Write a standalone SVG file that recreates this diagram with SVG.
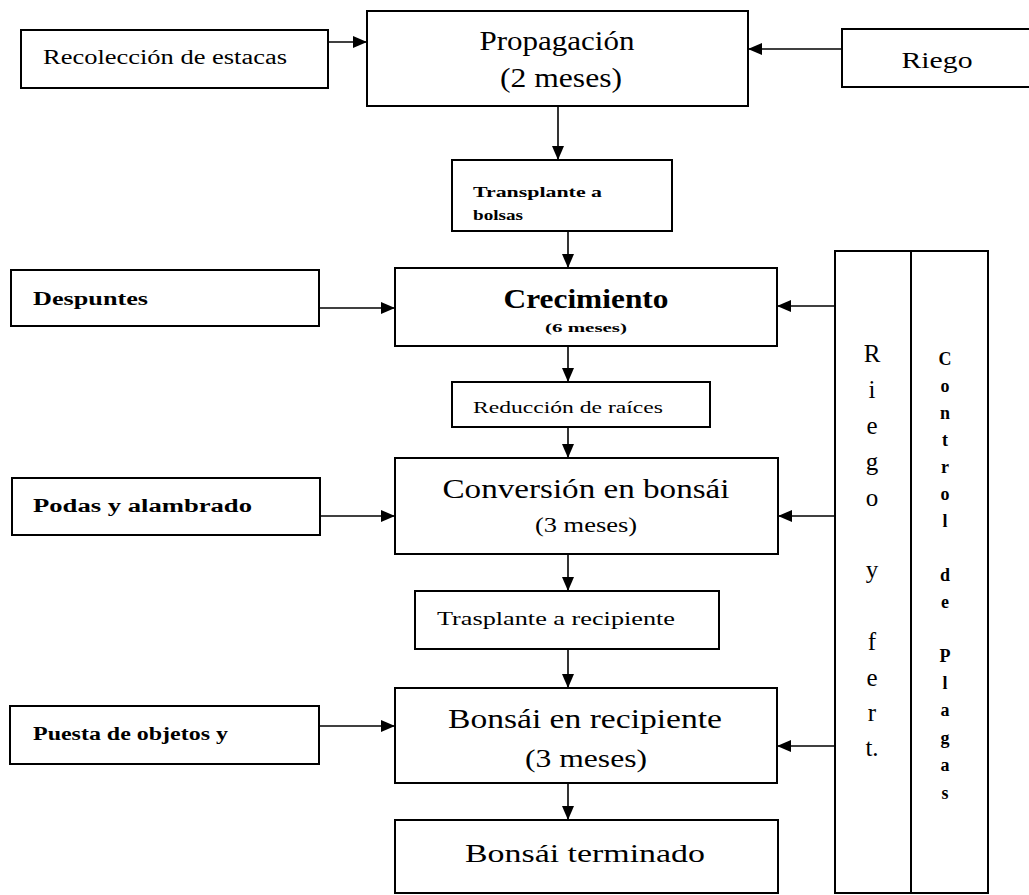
<svg xmlns="http://www.w3.org/2000/svg" width="1029" height="895" viewBox="0 0 1029 895">
<style>
.box{fill:#fff;stroke:#000;stroke-width:2}
.t{font-family:"Liberation Serif","Times New Roman",serif;fill:#000}
.c{text-anchor:middle}
.b{font-weight:bold}
.con line{stroke:#000;stroke-width:1.6;fill:none;marker-end:url(#ah)}
</style>
<defs>
<marker id="ah" markerUnits="userSpaceOnUse" markerWidth="14" markerHeight="12" refX="14" refY="6" orient="auto">
<path d="M0,0 L14,6 L0,12 z" fill="#000"/>
</marker>
</defs>
<rect width="1029" height="895" fill="#fff"/>

<g id="recoleccion"><rect class="box" x="21" y="30" width="307" height="58"/>
<text class="t" x="43" y="64" font-size="20" textLength="244" lengthAdjust="spacingAndGlyphs">Recolección de estacas</text></g>

<g id="propagacion"><rect class="box" x="367" y="11" width="381" height="95"/>
<text class="t c" x="557" y="50" font-size="27" textLength="155" lengthAdjust="spacingAndGlyphs">Propagación</text>
<text class="t c" x="561" y="87" font-size="27" textLength="122" lengthAdjust="spacingAndGlyphs">(2 meses)</text></g>

<g id="riego"><rect class="box" x="842" y="29" width="200" height="58"/>
<text class="t c" x="937" y="68" font-size="24" textLength="71" lengthAdjust="spacingAndGlyphs">Riego</text></g>

<g id="transplante-bolsas"><rect class="box" x="452" y="160" width="220" height="71"/>
<text class="t b" x="473" y="197" font-size="15" textLength="129" lengthAdjust="spacingAndGlyphs">Transplante a</text>
<text class="t b" x="473" y="220" font-size="15" textLength="50" lengthAdjust="spacingAndGlyphs">bolsas</text></g>

<g id="despuntes"><rect class="box" x="11" y="270" width="308" height="56"/>
<text class="t b" x="33" y="305" font-size="18" textLength="115" lengthAdjust="spacingAndGlyphs">Despuntes</text></g>

<g id="crecimiento"><rect class="box" x="395" y="268" width="382" height="78"/>
<text class="t c b" x="586" y="308" font-size="27" textLength="165" lengthAdjust="spacingAndGlyphs">Crecimiento</text>
<text class="t c b" x="586" y="332" font-size="13" textLength="82" lengthAdjust="spacingAndGlyphs">(6 meses)</text></g>

<g id="reduccion"><rect class="box" x="452" y="382" width="258" height="45"/>
<text class="t c" x="568" y="413" font-size="17" textLength="190" lengthAdjust="spacingAndGlyphs">Reducción de raíces</text></g>

<g id="podas"><rect class="box" x="12" y="478" width="308" height="57"/>
<text class="t b" x="33" y="512" font-size="18" textLength="219" lengthAdjust="spacingAndGlyphs">Podas y alambrado</text></g>

<g id="conversion"><rect class="box" x="395" y="458" width="383" height="96"/>
<text class="t c" x="586" y="498" font-size="27" textLength="287" lengthAdjust="spacingAndGlyphs">Conversión en bonsái</text>
<text class="t c" x="586" y="532" font-size="20" textLength="102" lengthAdjust="spacingAndGlyphs">(3 meses)</text></g>

<g id="trasplante-recipiente"><rect class="box" x="415" y="591" width="304" height="58"/>
<text class="t c" x="556" y="625" font-size="19" textLength="238" lengthAdjust="spacingAndGlyphs">Trasplante a recipiente</text></g>

<g id="puesta"><rect class="box" x="10" y="706" width="309" height="58"/>
<text class="t b" x="33" y="740" font-size="18" textLength="195" lengthAdjust="spacingAndGlyphs">Puesta de objetos y</text></g>

<g id="bonsai-recipiente"><rect class="box" x="395" y="688" width="382" height="95"/>
<text class="t c" x="585" y="728" font-size="27" textLength="274" lengthAdjust="spacingAndGlyphs">Bonsái en recipiente</text>
<text class="t c" x="586" y="767" font-size="25" textLength="122" lengthAdjust="spacingAndGlyphs">(3 meses)</text></g>

<g id="bonsai-terminado"><rect class="box" x="395" y="820" width="383" height="73"/>
<text class="t c" x="585" y="862" font-size="25" textLength="240" lengthAdjust="spacingAndGlyphs">Bonsái terminado</text></g>

<g id="riego-fert"><rect class="box" x="835" y="251" width="76" height="642"/>
<text class="t c" font-size="25">
<tspan x="872" y="362">R</tspan><tspan x="872" y="398">i</tspan><tspan x="872" y="434">e</tspan><tspan x="872" y="470">g</tspan><tspan x="872" y="506">o</tspan><tspan x="872" y="578">y</tspan><tspan x="872" y="650">f</tspan><tspan x="872" y="686">e</tspan><tspan x="872" y="721">r</tspan><tspan x="872" y="756">t.</tspan>
</text></g>

<g id="control-plagas"><rect class="box" x="911" y="251" width="77" height="642"/>
<text class="t c b" font-size="18">
<tspan x="945" y="365">C</tspan><tspan x="945" y="392">o</tspan><tspan x="945" y="419">n</tspan><tspan x="945" y="446">t</tspan><tspan x="945" y="473">r</tspan><tspan x="945" y="500">o</tspan><tspan x="945" y="527">l</tspan><tspan x="945" y="581">d</tspan><tspan x="945" y="608">e</tspan><tspan x="945" y="662">P</tspan><tspan x="945" y="689">l</tspan><tspan x="945" y="716">a</tspan><tspan x="945" y="744">g</tspan><tspan x="945" y="771">a</tspan><tspan x="945" y="799">s</tspan>
</text></g>

<g id="connectors" class="con">
<line x1="328" y1="42" x2="367" y2="42"/>
<line x1="842" y1="49" x2="748" y2="49"/>
<line x1="558" y1="106" x2="558" y2="160"/>
<line x1="568" y1="231" x2="568" y2="268"/>
<line x1="319" y1="308" x2="395" y2="308"/>
<line x1="835" y1="306" x2="777" y2="306"/>
<line x1="568" y1="346" x2="568" y2="382"/>
<line x1="568" y1="427" x2="568" y2="458"/>
<line x1="320" y1="516" x2="395" y2="516"/>
<line x1="835" y1="516" x2="778" y2="516"/>
<line x1="568" y1="554" x2="568" y2="591"/>
<line x1="568" y1="649" x2="568" y2="688"/>
<line x1="319" y1="726" x2="395" y2="726"/>
<line x1="835" y1="746" x2="777" y2="746"/>
<line x1="568" y1="783" x2="568" y2="820"/>
</g>
</svg>
